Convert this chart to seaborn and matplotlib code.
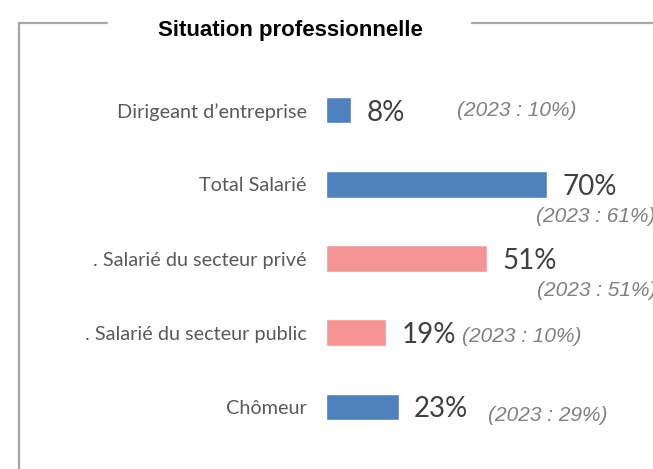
import matplotlib
matplotlib.use("Agg")
import matplotlib.pyplot as plt
from matplotlib.lines import Line2D
import seaborn as sns
import pandas as pd

# Chart data
categories = [
    "Dirigeant d\u2019entreprise",
    "Total Salarié",
    ". Salarié du secteur privé",
    ". Salarié du secteur public",
    "Chômeur",
]
values_2024 = [8, 70, 51, 19, 23]
values_2023 = [10, 61, 51, 10, 29]
groups = ["main", "main", "sub", "sub", "main"]

# Style / layout
PALETTE = {"main": "#4F81BD", "sub": "#F79494"}
# offsets (points) of the 2023 note from the bar end
NOTE_OFFSETS = [(76, 0), (-8, -23), (36, -23), (55, -3), (64, -6)]

df = pd.DataFrame({"cat": categories, "val": values_2024, "grp": groups})

sns.set_theme(style="white")
plt.rcParams["font.family"] = ["Lato", "DejaVu Sans"]

fig = plt.figure(figsize=(6.53, 4.69), dpi=100)
ax = fig.add_axes([326 / 653, 25 / 469, 327 / 653, 371 / 469])

sns.barplot(data=df, x="val", y="cat", hue="grp", palette=PALETTE,
            orient="h", width=0.36, dodge=False, legend=False, ax=ax,
            saturation=1)

ax.set_xlim(0, 327 / 3.16)
ax.set_ylim(4.5, -0.5)
ax.set_xlabel("")
ax.set_ylabel("")
ax.set_xticks([])
sns.despine(ax=ax, left=True, bottom=True)
ax.tick_params(axis="y", length=0, pad=14, labelsize=14.3, labelcolor="#595959")

for i, (v, old) in enumerate(zip(values_2024, values_2023)):
    ax.annotate(f"{v}%", xy=(v, i), xytext=(11, 0), textcoords="offset points",
                ha="left", va="center_baseline", fontsize=20, color="#404040")
    # the reference clips the two long notes at the right edge as well
    dx, dy = NOTE_OFFSETS[i]
    ax.annotate(f"(2023 : {old}%)", xy=(v, i), xytext=(dx, dy),
                textcoords="offset points", ha="left", va="center",
                fontsize=15, color="#808080", style="italic",
                family="Liberation Sans", annotation_clip=False)

# frame around the chart with a gap for the title
line_kw = dict(color="#A6A6A6", lw=1.6, transform=fig.transFigure)
y_top = 1 - 23 / 469
fig.add_artist(Line2D([19 / 653, 19 / 653], [0, y_top], **line_kw))
fig.add_artist(Line2D([19 / 653, 107 / 653], [y_top, y_top], **line_kw))
fig.add_artist(Line2D([472 / 653, 1], [y_top, y_top], **line_kw))

fig.text(290 / 653, 1 - 30 / 469, "Situation professionnelle", ha="center",
         va="center", fontsize=16, fontweight="bold",
         family="Liberation Sans", color="black")

fig.savefig("out.png", dpi=100)
